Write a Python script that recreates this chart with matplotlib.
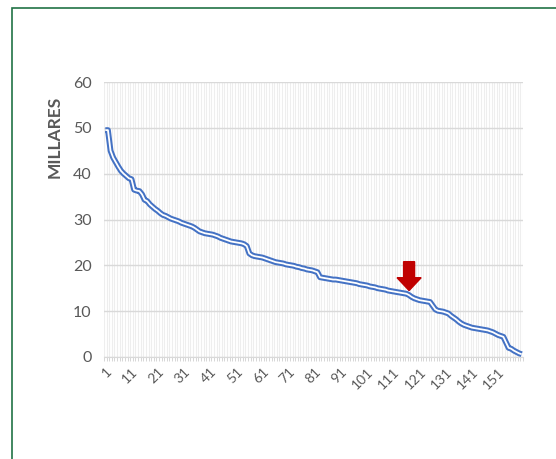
import matplotlib
matplotlib.use("Agg")
import matplotlib.pyplot as plt
from matplotlib.patches import Rectangle
from matplotlib.ticker import FixedLocator

plt.rcParams['font.family'] = ['Lato', 'DejaVu Sans']

# valores ordenados de mayor a menor (en millares)
valores = [
    49.5, 49.5, 45.0, 43.5, 42.5, 41.5, 40.6, 40.0, 39.5, 39.0,
    38.8, 36.5, 36.3, 36.2, 35.5, 34.3, 34.0, 33.3, 32.8, 32.3,
    31.9, 31.4, 31.0, 30.8, 30.5, 30.2, 30.0, 29.8, 29.6, 29.3,
    29.1, 28.9, 28.7, 28.5, 28.2, 27.8, 27.4, 27.2, 27.0, 26.9,
    26.8, 26.7, 26.5, 26.3, 26.0, 25.8, 25.6, 25.4, 25.2, 25.1,
    25.0, 24.9, 24.8, 24.6, 24.2, 22.6, 22.2, 22.0, 21.9, 21.8,
    21.7, 21.5, 21.3, 21.1, 20.9, 20.7, 20.6, 20.5, 20.4, 20.2,
    20.1, 20.0, 19.9, 19.7, 19.6, 19.4, 19.3, 19.1, 19.0, 18.9,
    18.7, 18.5, 17.4, 17.3, 17.2, 17.1, 17.0, 16.9, 16.9, 16.8,
    16.7, 16.6, 16.5, 16.4, 16.3, 16.2, 16.1, 15.9, 15.8, 15.7,
    15.6, 15.4, 15.3, 15.2, 15.0, 14.9, 14.8, 14.7, 14.5, 14.4,
    14.3, 14.2, 14.1, 14.0, 13.9, 13.8, 13.5, 13.1, 12.8, 12.6,
    12.4, 12.3, 12.2, 12.1, 12.0, 11.2, 10.4, 10.1, 10.0, 9.9,
    9.7, 9.5, 9.0, 8.6, 8.2, 7.7, 7.3, 7.0, 6.8, 6.6,
    6.4, 6.3, 6.2, 6.1, 6.0, 5.9, 5.8, 5.6, 5.4, 5.1,
    4.8, 4.6, 4.4, 3.2, 2.0, 1.8, 1.4, 1.1, 0.8, 0.6,
]
posiciones = list(range(1, len(valores) + 1))
etiquetas_x = [str(p) for p in posiciones if (p - 1) % 10 == 0]
ticks_y = [0, 10, 20, 30, 40, 50, 60]

# flecha roja sobre la posicion destacada
flecha_pos = 117
flecha_ini = 20.8
flecha_fin = 14.5

gris = '#595959'

fig = plt.figure(figsize=(5.56, 4.59), dpi=100)
fig.patches.append(Rectangle((12 / 556, -0.1), 1.2, 1 - 8 / 459 + 0.1,
                             transform=fig.transFigure, fill=False,
                             edgecolor='#217346', linewidth=1.2))

ax = fig.add_axes([104 / 556, 1 - 357 / 459, (523 - 104) / 556, (357 - 82) / 459])
ax.set_xlim(0.5, len(valores) + 0.5)
ax.set_ylim(0, 60)

# rejilla: una linea vertical por categoria y horizontales cada 10
limites = [p + 0.5 for p in range(0, len(valores) + 1)]
ax.xaxis.set_minor_locator(FixedLocator(limites))
ax.set_xticks([int(e) for e in etiquetas_x])
ax.set_xticklabels(etiquetas_x, rotation=45, ha='right', va='top',
                   rotation_mode='anchor', fontsize=10, color=gris)
ax.grid(True, which='minor', axis='x', color='#eeeeee', linewidth=0.8)
ax.set_yticks(ticks_y)
ax.set_yticklabels([str(t) for t in ticks_y], fontsize=11.5, color=gris)
ax.grid(True, which='major', axis='y', color='#d9d9d9', linewidth=1)
ax.set_axisbelow(True)

ax.tick_params(axis='x', which='major', length=0, pad=6)
ax.tick_params(axis='x', which='minor', length=3, color='#d0d0d0', width=0.6)
ax.tick_params(axis='y', length=0, pad=9)
for lado in ['top', 'right', 'left']:
    ax.spines[lado].set_visible(False)
ax.spines['bottom'].set_color('#d9d9d9')

# linea doble: trazo azul grueso con un hilo blanco encima
ax.plot(posiciones, valores, color='#4472C4', linewidth=4.2,
        solid_joinstyle='round', solid_capstyle='butt')
ax.plot(posiciones, valores, color='white', linewidth=1.3,
        solid_joinstyle='round', solid_capstyle='butt')

ax.arrow(flecha_pos, flecha_ini, 0, flecha_fin - flecha_ini,
         width=4.2, head_width=9.2, head_length=2.8,
         length_includes_head=True, color='#C00000', zorder=5)

fig.text(55 / 556, 1 - 137 / 459, 'MILLARES', rotation=90, ha='center',
         va='center', fontsize=12.5, fontweight='bold', color=gris)

fig.savefig('out.png', dpi=100)
